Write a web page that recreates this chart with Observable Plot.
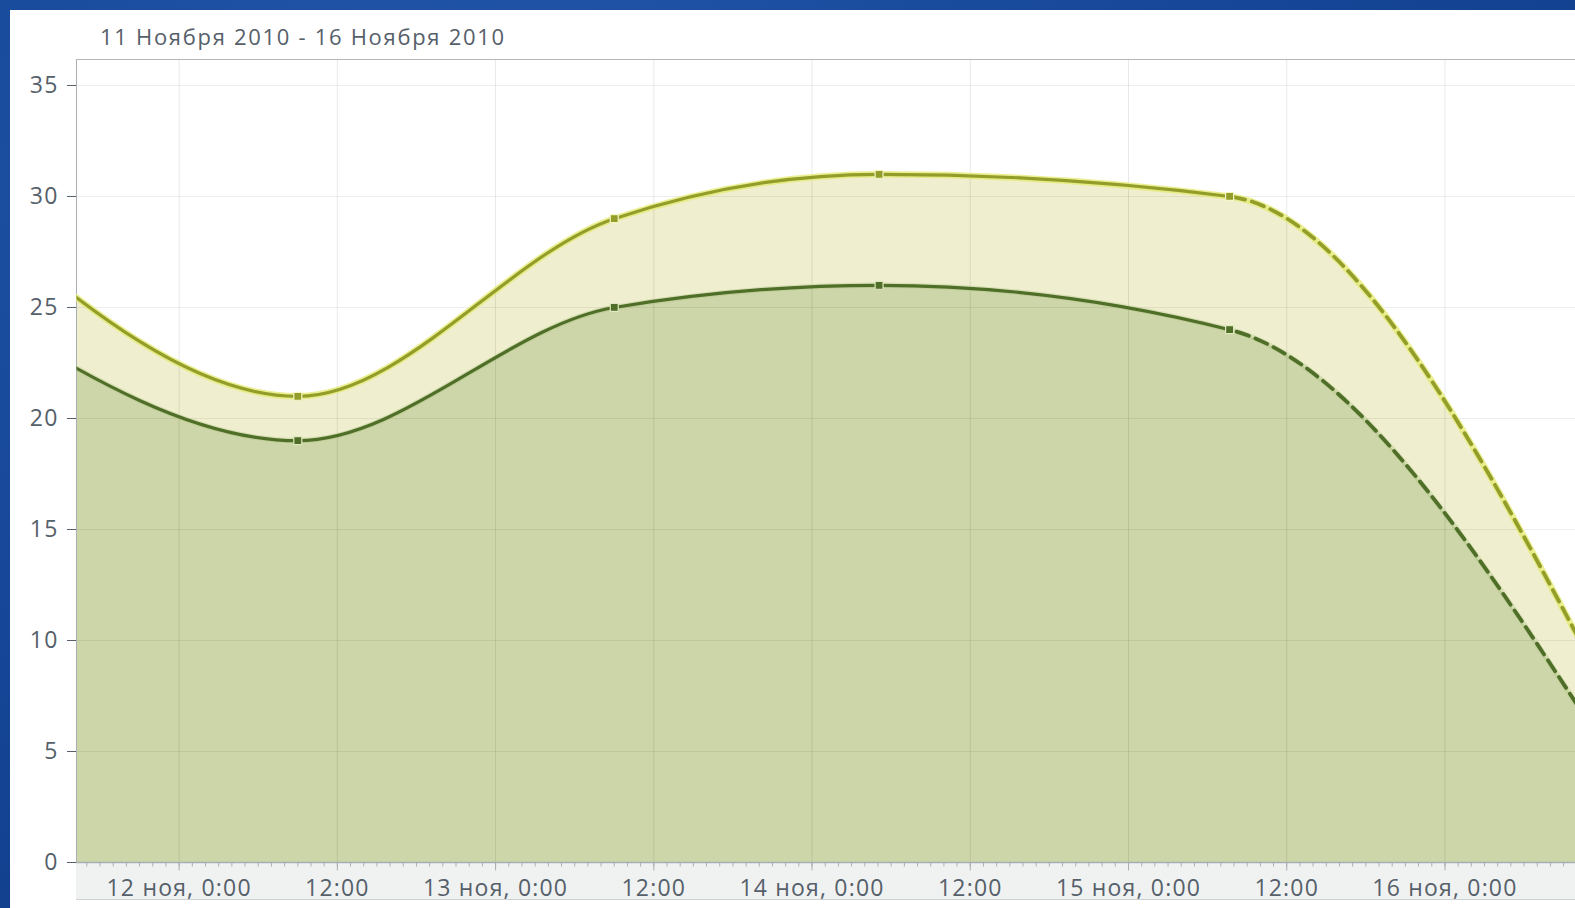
<!DOCTYPE html>
<html>
<head>
<meta charset="utf-8">
<script src="https://cdn.jsdelivr.net/npm/d3@7"></script>
<script src="https://cdn.jsdelivr.net/npm/@observablehq/plot@0.6"></script>
<style>
  html, body { margin: 0; padding: 0; }
  body { width: 1575px; height: 908px; overflow: hidden; position: relative;
         background: radial-gradient(ellipse at 30% 20%, #2459ab 0%, #17489a 45%, #0f3b88 100%); }
  #panel { position: absolute; left: 10px; top: 10px; right: 0; bottom: 0; background: #ffffff; }
  #band { position: absolute; left: 76px; top: 862px; right: 0; height: 37px; background: #f0f2f2; border-bottom: 1px solid #cdd2d6; }
  #title { position: absolute; left: 100px; top: 21px; font-family: "Open Sans", sans-serif; font-size: 22px; letter-spacing: 1.7px; color: #56606a; white-space: nowrap; }
  #chart { position: absolute; left: 0; top: 0; }
  #chart svg text { letter-spacing: 1.2px; }
</style>
</head>
<body>
<div id="panel"></div>
<div id="band"></div>
<div id="title">11 Ноября 2010 - 16 Ноября 2010</div>
<div id="chart"></div>
<script>
// ---- data ----
const times = ["2010-11-11T09:00Z", "2010-11-12T09:00Z", "2010-11-13T09:00Z", "2010-11-14T05:05Z", "2010-11-15T07:40Z", "2010-11-16T12:00Z"];
const upperValues = [28.9, 21, 29, 31, 30, 8.0];
const lowerValues = [24.8, 19, 25, 26, 24, 5.3];
const forecastFrom = "2010-11-15T07:40Z";

const xTicks = ["2010-11-12T00:00Z", "2010-11-12T12:00Z", "2010-11-13T00:00Z", "2010-11-13T12:00Z",
                "2010-11-14T00:00Z", "2010-11-14T12:00Z", "2010-11-15T00:00Z", "2010-11-15T12:00Z", "2010-11-16T00:00Z"];
const xTickLabels = ["12 ноя, 0:00", "12:00", "13 ноя, 0:00", "12:00", "14 ноя, 0:00", "12:00", "15 ноя, 0:00", "12:00", "16 ноя, 0:00"];
const yTicks = [0, 5, 10, 15, 20, 25, 30, 35];
const xDomain = ["2010-11-11T16:13Z", "2010-11-16T09:54Z"];
const yDomain = [0, 36.17];

// ---- build ----
const data = times.map((t, i) => ({t: new Date(t), upper: upperValues[i], lower: lowerValues[i]}));
const tickDates = xTicks.map(d => new Date(d));
const labelByTime = new Map(tickDates.map((d, i) => [+d, xTickLabels[i]]));
const domainX = xDomain.map(d => new Date(d));
const hourTicks = d3.utcHour.range(domainX[0], domainX[1]);

const upperColor = "#939e2a", lowerColor = "#4f6e28";

const chart = Plot.plot({
  width: 1575, height: 908,
  marginLeft: 76, marginRight: 0, marginTop: 59, marginBottom: 46,
  style: {background: "transparent", fontFamily: "'Open Sans', sans-serif", fontSize: "23px", color: "#56606a", overflow: "visible"},
  x: {type: "utc", domain: domainX, ticks: tickDates, tickFormat: d => labelByTime.get(+d), tickSize: 0, tickPadding: 17, label: null},
  y: {domain: yDomain, ticks: yTicks, tickSize: 9, tickPadding: 9, label: null},
  marks: [
    Plot.areaY(data, {x: "t", y: "upper", curve: "monotone-x", fill: "#efeecf", clip: true}),
    Plot.areaY(data, {x: "t", y: "lower", curve: "monotone-x", fill: "#cdd6a8", clip: true}),
    Plot.ruleX(tickDates, {stroke: "#000", strokeOpacity: 0.09}),
    Plot.ruleY(yTicks.filter(v => v > 0), {stroke: "#000", strokeOpacity: 0.07}),
    Plot.ruleX(hourTicks, {y1: 0, y2: -0.2, stroke: "#a9aeb3"}),
    Plot.ruleX(tickDates, {y1: 0, y2: -0.38, stroke: "#a9aeb3"}),
    Plot.ruleY([0], {stroke: "#a9aeb3", strokeWidth: 1.5}),
    Plot.ruleY([yDomain[1]], {stroke: "#b3b8bc"}),
    Plot.ruleX([domainX[0]], {stroke: "#a9aeb3"}),
    // halos
    Plot.line(data, {x: "t", y: "upper", curve: "monotone-x", stroke: "#e4ea6e", strokeWidth: 6.5, strokeOpacity: 0.75, clip: true}),
    Plot.line(data, {x: "t", y: "lower", curve: "monotone-x", stroke: "#a9bf7c", strokeWidth: 5.5, strokeOpacity: 0.35, clip: true}),
    // solid (observed) and dashed (forecast) parts
    Plot.line(data, {x: "t", y: "upper", curve: "monotone-x", stroke: upperColor, strokeWidth: 3.2, ariaDescription: "solid"}),
    Plot.line(data, {x: "t", y: "lower", curve: "monotone-x", stroke: lowerColor, strokeWidth: 3.2, ariaDescription: "solid"}),
    Plot.line(data, {x: "t", y: "upper", curve: "monotone-x", stroke: upperColor, strokeWidth: 3.8, strokeDasharray: "13,7", ariaDescription: "dashed"}),
    Plot.line(data, {x: "t", y: "lower", curve: "monotone-x", stroke: lowerColor, strokeWidth: 3.8, strokeDasharray: "13,7", ariaDescription: "dashed"}),
    Plot.dot(data, {x: "t", y: "upper", symbol: "square", r: 4.5, fill: upperColor, stroke: "#f3f5c2", strokeWidth: 1.2, clip: true}),
    Plot.dot(data, {x: "t", y: "lower", symbol: "square", r: 4.5, fill: lowerColor, stroke: "#dfe8bf", strokeWidth: 1.2, clip: true})
  ]
});

document.getElementById("chart").appendChild(chart);

// split solid / dashed parts at the last observed point
const xSplit = chart.scale("x").apply(new Date(forecastFrom));
const xRange = chart.scale("x").range;
const yRange = chart.scale("y").range;
const yTopPx = Math.min(...yRange), yBottomPx = Math.max(...yRange);
const defs = d3.select(chart).append("defs");
defs.append("clipPath").attr("id", "clipSolid").append("rect")
  .attr("x", xRange[0]).attr("y", yTopPx).attr("width", xSplit - xRange[0]).attr("height", yBottomPx - yTopPx);
defs.append("clipPath").attr("id", "clipDashed").append("rect")
  .attr("x", xSplit).attr("y", yTopPx).attr("width", xRange[1] - xSplit).attr("height", yBottomPx - yTopPx);
d3.select(chart).selectAll('[aria-description="solid"]').attr("clip-path", "url(#clipSolid)");
d3.select(chart).selectAll('[aria-description="dashed"]').attr("clip-path", "url(#clipDashed)");
</script>
</body>
</html>
